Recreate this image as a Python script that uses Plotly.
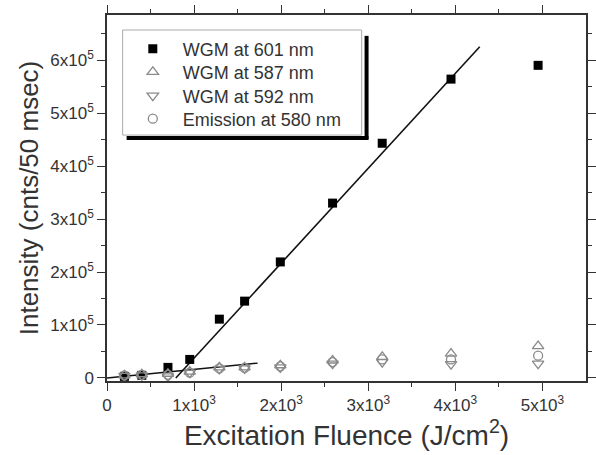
import plotly.graph_objects as go

# ---- data ----
fluence = [200, 400, 700, 950, 1290, 1580, 1990, 2590, 3160, 3950, 4950]
wgm601 = [3000, 5000, 20000, 35000, 111000, 145000, 219000, 330000, 443000, 564000, 590000]
wgm587 = [5000, 7000, 8000, 12000, 20000, 20000, 24000, 33000, 40000, 46000, 60000]
wgm592 = [4000, 5000, 3000, 10000, 17000, 18000, 20000, 27000, 30000, 26000, 27000]
emission580 = [5000, 6000, 6000, 10000, 18000, 19000, 22000, 30000, 35000, 35000, 42000]

fit601_x = [790, 4280]
fit601_y = [0, 625000]
fit580_x = [0, 1730]
fit580_y = [0, 28000]

x_tickvals = [0, 1000, 2000, 3000, 4000, 5000]
x_ticktext = ["0", "1x10<sup>3</sup>", "2x10<sup>3</sup>", "3x10<sup>3</sup>",
              "4x10<sup>3</sup>", "5x10<sup>3</sup>"]
y_tickvals = [0, 100000, 200000, 300000, 400000, 500000, 600000]
y_ticktext = ["0", "1x10<sup>5</sup>", "2x10<sup>5</sup>", "3x10<sup>5</sup>",
              "4x10<sup>5</sup>", "5x10<sup>5</sup>", "6x10<sup>5</sup>"]
x_minor = [500, 1500, 2500, 3500, 4500]
y_minor = [50000, 150000, 250000, 350000, 450000, 550000, 650000]

FONT = "Liberation Sans, Arial, sans-serif"
GREY = "#8a8a8a"

fig = go.Figure()
fig.add_trace(go.Scatter(x=fit601_x, y=fit601_y, mode="lines",
                         line=dict(color="#111", width=1.6), showlegend=False))
fig.add_trace(go.Scatter(x=fit580_x, y=fit580_y, mode="lines",
                         line=dict(color="#111", width=1.4), showlegend=False))
fig.add_trace(go.Scatter(x=fluence, y=wgm601, mode="markers", name="WGM at 601 nm",
                         legend="legend",
                         marker=dict(symbol="square", size=9, color="#000")))
fig.add_trace(go.Scatter(x=fluence, y=wgm587, mode="markers", name="WGM at 587 nm",
                         legend="legend2",
                         marker=dict(symbol="triangle-up-open", size=10, color=GREY,
                                     line=dict(width=1.3, color=GREY))))
fig.add_trace(go.Scatter(x=fluence, y=wgm592, mode="markers", name="WGM at 592 nm",
                         legend="legend3",
                         marker=dict(symbol="triangle-down-open", size=10, color=GREY,
                                     line=dict(width=1.3, color=GREY))))
fig.add_trace(go.Scatter(x=fluence, y=emission580, mode="markers", name="Emission at 580 nm",
                         legend="legend4",
                         marker=dict(symbol="circle-open", size=9, color=GREY,
                                     line=dict(width=1.3, color=GREY))))

axis_common = dict(showline=True, linecolor="#333", linewidth=1.5, mirror="ticks",
                   ticks="outside", tickcolor="#333", tickwidth=1.3, ticklen=8,
                   showgrid=False, zeroline=False,
                   tickfont=dict(family=FONT, size=17, color="#333"))

fig.update_xaxes(range=[0, 5500], tickmode="array", tickvals=x_tickvals, ticktext=x_ticktext,
                 minor=dict(tickmode="array", tickvals=x_minor, ticklen=4, tickcolor="#333",
                            ticks="outside", showgrid=False),
                 title=dict(text="Excitation Fluence (J/cm<sup>2</sup>)",
                            font=dict(family=FONT, size=28, color="#333"), standoff=6),
                 **axis_common)
fig.update_yaxes(range=[-5700, 685000], tickmode="array", tickvals=y_tickvals, ticktext=y_ticktext,
                 minor=dict(tickmode="array", tickvals=y_minor, ticklen=4, tickcolor="#333",
                            ticks="outside", showgrid=False),
                 title=dict(text="Intensity (cnts/50 msec)",
                            font=dict(family=FONT, size=26, color="#333"), standoff=4),
                 **axis_common)

# legend frame with drop shadow
fig.add_shape(type="line", xref="paper", yref="paper", x0=0.5419, x1=0.5419, y0=0.661, y1=0.943,
              line=dict(color="#000", width=4), layer="above")
fig.add_shape(type="line", xref="paper", yref="paper", x0=0.041, x1=0.5459, y0=0.6639, y1=0.6639,
              line=dict(color="#000", width=4), layer="above")
fig.add_shape(type="rect", xref="paper", yref="paper", x0=0.0327, x1=0.5317, y0=0.672, y1=0.959,
              line=dict(color="#aaa", width=1), fillcolor="white", layer="above")

leg_common = dict(xanchor="left", yanchor="middle", borderwidth=0, bgcolor="rgba(0,0,0,0)",
                  font=dict(family=FONT, size=18, color="#333"), itemwidth=50)
fig.update_layout(
    width=596, height=455,
    margin=dict(l=107, r=0, t=15, b=74),
    paper_bgcolor="white", plot_bgcolor="white",
    font=dict(family=FONT, color="#333"),
    legend=dict(x=0.033, y=0.907, **leg_common),
    legend2=dict(x=0.033, y=0.844, **leg_common),
    legend3=dict(x=0.033, y=0.779, **leg_common),
    legend4=dict(x=0.033, y=0.716, **leg_common),
)

fig.write_html("out.html")
